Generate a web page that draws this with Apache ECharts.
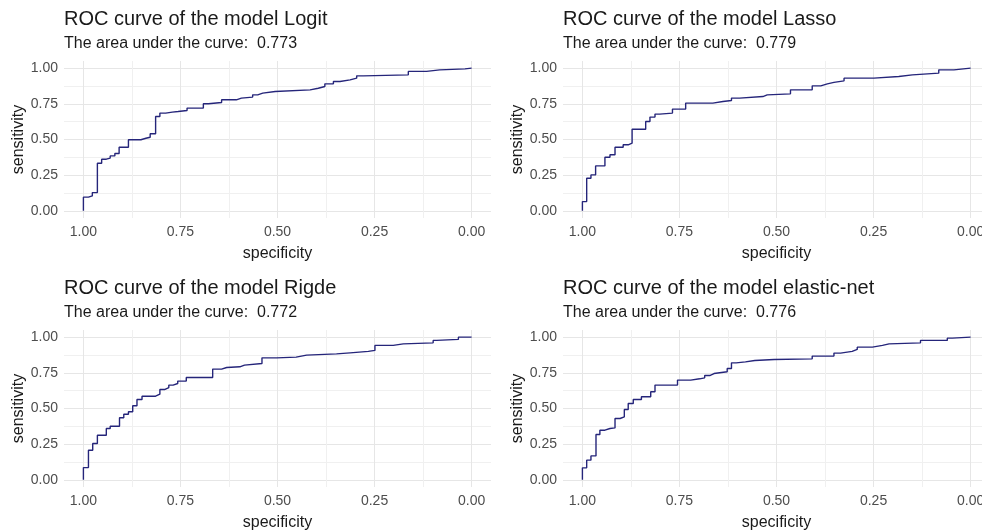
<!DOCTYPE html>
<html>
<head>
<meta charset="utf-8">
<script src="https://cdn.jsdelivr.net/npm/echarts@6/dist/echarts.min.js"></script>
<style>
  html, body { margin: 0; padding: 0; background: #fff; }
  #roc { width: 982px; height: 531px; }
</style>
</head>
<body>
<div id="roc"></div>
<script>
// model names and auc shown in the subtitles
var modelNames = ["Logit", "Lasso", "Rigde", "elastic-net"];
var aucValues = ["0.773", "0.779", "0.772", "0.776"];
var tickValues = [0, 0.25, 0.5, 0.75, 1];
var gridValues = [0, 0.125, 0.25, 0.375, 0.5, 0.625, 0.75, 0.875, 1];

// roc points: (specificity, sensitivity) at top of each step
var specLogit = [1, 1, 0.987, 0.977, 0.964, 0.953, 0.941, 0.931, 0.919, 0.908, 0.884, 0.852, 0.839, 0.828, 0.814, 0.803, 0.788, 0.771, 0.756, 0.733, 0.691, 0.678, 0.644, 0.606, 0.593, 0.564, 0.551, 0.538, 0.506, 0.416, 0.395, 0.378, 0.356, 0.339, 0.313, 0.296, 0.279, 0.163, 0.116, 0.082, 0.017, 0];
var sensLogit = [0, 0.096, 0.105, 0.128, 0.334, 0.362, 0.37, 0.385, 0.402, 0.446, 0.498, 0.509, 0.516, 0.54, 0.661, 0.685, 0.692, 0.696, 0.703, 0.72, 0.75, 0.759, 0.778, 0.79, 0.797, 0.813, 0.825, 0.836, 0.848, 0.859, 0.871, 0.89, 0.906, 0.918, 0.93, 0.946, 0.953, 0.977, 0.988, 0.995, 1, 1];

var specLasso = [1, 1, 0.989, 0.978, 0.966, 0.942, 0.929, 0.916, 0.895, 0.882, 0.872, 0.837, 0.826, 0.813, 0.801, 0.768, 0.734, 0.664, 0.638, 0.616, 0.595, 0.535, 0.524, 0.464, 0.408, 0.386, 0.369, 0.352, 0.326, 0.249, 0.185, 0.15, 0.082, 0.043, 0];
var sensLasso = [0, 0.065, 0.229, 0.252, 0.315, 0.376, 0.393, 0.446, 0.463, 0.474, 0.572, 0.626, 0.657, 0.678, 0.685, 0.713, 0.755, 0.766, 0.773, 0.79, 0.801, 0.813, 0.82, 0.848, 0.876, 0.89, 0.9, 0.911, 0.93, 0.941, 0.953, 0.965, 0.988, 1, 1];

var specRidge = [1, 1, 0.987, 0.976, 0.964, 0.941, 0.931, 0.907, 0.896, 0.884, 0.873, 0.862, 0.849, 0.814, 0.803, 0.791, 0.78, 0.769, 0.757, 0.735, 0.667, 0.644, 0.631, 0.597, 0.585, 0.54, 0.502, 0.452, 0.425, 0.348, 0.313, 0.266, 0.249, 0.202, 0.176, 0.099, 0.09, 0.034, 0];
var sensRidge = [0, 0.086, 0.208, 0.255, 0.313, 0.36, 0.376, 0.435, 0.46, 0.477, 0.519, 0.563, 0.586, 0.6, 0.633, 0.647, 0.664, 0.675, 0.692, 0.717, 0.776, 0.787, 0.792, 0.804, 0.815, 0.855, 0.86, 0.874, 0.883, 0.89, 0.9, 0.907, 0.942, 0.953, 0.96, 0.977, 0.984, 1, 1];

var specElastic = [1, 1, 0.989, 0.978, 0.965, 0.955, 0.942, 0.929, 0.916, 0.903, 0.892, 0.882, 0.869, 0.848, 0.824, 0.813, 0.755, 0.721, 0.698, 0.685, 0.672, 0.661, 0.627, 0.616, 0.604, 0.58, 0.556, 0.506, 0.408, 0.352, 0.335, 0.305, 0.292, 0.253, 0.227, 0.21, 0.129, 0.06, 0.047, 0];
var sensElastic = [0, 0.084, 0.138, 0.168, 0.318, 0.348, 0.36, 0.364, 0.43, 0.442, 0.493, 0.535, 0.563, 0.582, 0.617, 0.664, 0.699, 0.708, 0.715, 0.731, 0.745, 0.757, 0.78, 0.82, 0.827, 0.836, 0.843, 0.848, 0.867, 0.888, 0.9, 0.914, 0.93, 0.942, 0.953, 0.96, 0.977, 0.993, 1, 1];

var specs = [specLogit, specLasso, specRidge, specElastic];
var senss = [sensLogit, sensLasso, sensRidge, sensElastic];

var font = "Liberation Sans, Arial, sans-serif";
// panel placement: [left, top] of each plotting area
var panelPos = [[64, 61], [563, 61], [64, 330], [563, 330]];
var titleTops = [[9, 36], [9, 36], [278, 305], [278, 305]];

var myChart = echarts.init(document.getElementById("roc"), null, { renderer: "canvas" });

var grids = [], xAxes = [], yAxes = [], series = [], titles = [];
for (var i = 0; i < 4; i++) {
  // right hand panels run past the page edge, like the cropped original
  grids.push({ left: panelPos[i][0], top: panelPos[i][1], width: 427, height: 157, outerBoundsMode: "none", containLabel: false });

  var common = {
    type: "value",
    gridIndex: i,
    min: -0.05,
    max: 1.05,
    axisLine: { show: false },
    axisTick: { show: false, customValues: gridValues },
    splitLine: { show: true, lineStyle: { color: ["#e6e6e6", "#f0f0f0"], width: 1 } },
    nameLocation: "middle",
    nameTextStyle: { fontSize: 16, color: "#1a1a1a", fontFamily: font }
  };
  xAxes.push(Object.assign({}, common, {
    inverse: true,
    name: "specificity",
    nameGap: 28,
    axisLabel: {
      customValues: tickValues,
      margin: 7,
      fontSize: 14,
      color: "#4d4d4d",
      fontFamily: font,
      formatter: function (v) { return v.toFixed(2); }
    }
  }));
  yAxes.push(Object.assign({}, common, {
    name: "sensitivity",
    nameGap: 34,
    axisLabel: {
      customValues: tickValues,
      margin: 6,
      fontSize: 14,
      color: "#4d4d4d",
      fontFamily: font,
      formatter: function (v) { return v.toFixed(2); }
    }
  }));

  var pts = [];
  for (var k = 0; k < specs[i].length; k++) {
    pts.push([specs[i][k], senss[i][k]]);
  }
  series.push({
    type: "line",
    xAxisIndex: i,
    yAxisIndex: i,
    step: "end",
    showSymbol: false,
    lineStyle: { color: "#25257a", width: 1.4 },
    data: pts
  });

  titles.push({
    text: "ROC curve of the model " + modelNames[i],
    left: panelPos[i][0],
    top: titleTops[i][0],
    padding: 0,
    textStyle: { fontSize: 20, fontWeight: "normal", color: "#1a1a1a", fontFamily: font }
  });
  titles.push({
    text: "The area under the curve:  " + aucValues[i],
    left: panelPos[i][0],
    top: titleTops[i][1],
    padding: 0,
    textStyle: { fontSize: 16, fontWeight: "normal", color: "#1a1a1a", fontFamily: font }
  });
}

myChart.setOption({
  animation: false,
  backgroundColor: "#ffffff",
  title: titles,
  grid: grids,
  xAxis: xAxes,
  yAxis: yAxes,
  series: series
});
</script>
</body>
</html>
